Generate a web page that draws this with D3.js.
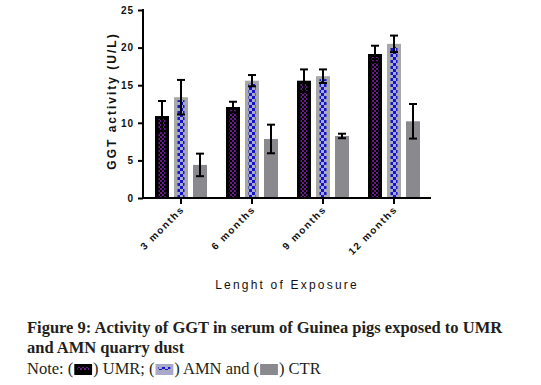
<!DOCTYPE html>
<html>
<head>
<meta charset="utf-8">
<script src="https://cdn.jsdelivr.net/npm/d3@7"></script>
<style>
  body { margin: 0; background: #fff; }
  .cap { font-family: "Liberation Serif", serif; fill: #231f20; }
</style>
</head>
<body>
<div id="chart"></div>
<script>
// Datos del gráfico
const categorias = ["3 months", "6 months", "9 months", "12 months"];
const series = ["UMR", "AMN", "CTR"];
const valoresUMR = [10.9, 12.1, 15.6, 19.15];
const erroresUMR = [2.0, 0.7, 1.5, 1.1];
const valoresAMN = [13.4, 15.6, 16.2, 20.5];
const erroresAMN = [2.3, 0.75, 0.9, 1.1];
const valoresCTR = [4.4, 7.85, 8.25, 10.2];
const erroresCTR = [1.5, 1.9, 0.3, 2.3];
const ticksY = [0, 5, 10, 15, 20, 25];

const width = 541;
const height = 385;

const svg = d3.select("#chart")
    .append("svg")
    .attr("width", width)
    .attr("height", height);

// Patrones de relleno
const defs = svg.append("defs");
const pUMR = defs.append("pattern").attr("id", "pUMR")
    .attr("patternUnits", "userSpaceOnUse").attr("width", 4).attr("height", 4);
pUMR.append("rect").attr("width", 4).attr("height", 4).attr("fill", "#000");
pUMR.append("rect").attr("width", 2).attr("height", 2).attr("fill", "#6a1b8a");
pUMR.append("rect").attr("x", 2).attr("y", 2).attr("width", 2).attr("height", 2).attr("fill", "#6a1b8a");

const pAMN = defs.append("pattern").attr("id", "pAMN")
    .attr("patternUnits", "userSpaceOnUse").attr("width", 6).attr("height", 6);
pAMN.append("rect").attr("width", 6).attr("height", 6).attr("fill", "#a9a9c8");
pAMN.append("rect").attr("width", 3).attr("height", 3).attr("fill", "#1414d0");
pAMN.append("rect").attr("x", 3).attr("y", 3).attr("width", 3).attr("height", 3).attr("fill", "#1414d0");

// Escalas
const x0 = d3.scaleBand().domain(categorias).range([145.5, 429.5]);
const x1 = d3.scalePoint().domain(series).range([-19, 19]);
const y = d3.scaleLinear().domain([0, 25]).range([198, 10]);
const barW = 14;

const datos = {
    UMR: { v: valoresUMR, e: erroresUMR },
    AMN: { v: valoresAMN, e: erroresAMN },
    CTR: { v: valoresCTR, e: erroresCTR }
};

// Barras
const g = svg.append("g");
series.forEach(s => {
    categorias.forEach((c, i) => {
        const cx = x0(c) + x0.bandwidth() / 2 + x1(s);
        const val = datos[s].v[i];
        const x = cx - barW / 2;
        const top = y(val);
        const h = y(0) - top;
        if (s === "UMR") {
            g.append("rect").attr("x", x).attr("y", top).attr("width", barW).attr("height", h).attr("fill", "#000");
            g.append("rect").attr("x", x + 3.5).attr("y", top + 3).attr("width", barW - 7).attr("height", h - 3).attr("fill", "url(#pUMR)");
        } else if (s === "AMN") {
            g.append("rect").attr("x", x).attr("y", top).attr("width", barW).attr("height", h).attr("fill", "#a8a8a8");
            g.append("rect").attr("x", x + 3.5).attr("y", top + 3).attr("width", barW - 7).attr("height", h - 3).attr("fill", "url(#pAMN)");
        } else {
            g.append("rect").attr("x", x).attr("y", top).attr("width", barW).attr("height", h).attr("fill", "#8a898e");
        }
        // Barras de error
        const e = datos[s].e[i];
        const eb = g.append("g").attr("stroke", "#000").attr("stroke-width", 2);
        eb.append("line").attr("x1", cx).attr("x2", cx).attr("y1", y(val + e)).attr("y2", y(val - e));
        eb.append("line").attr("x1", cx - 4).attr("x2", cx + 4).attr("y1", y(val + e)).attr("y2", y(val + e));
        eb.append("line").attr("x1", cx - 4).attr("x2", cx + 4).attr("y1", y(val - e)).attr("y2", y(val - e));
    });
});

// Eje Y
const ejeY = svg.append("g")
    .attr("transform", "translate(143,0)")
    .call(d3.axisLeft(y).tickValues(ticksY).tickSize(5).tickPadding(4));
ejeY.select(".domain").attr("stroke", "#000").attr("stroke-width", 2).attr("d", "M0,198V9");
ejeY.selectAll(".tick line").attr("stroke", "#000").attr("stroke-width", 2);
ejeY.selectAll(".tick text")
    .attr("font-family", "Liberation Sans, Arial, sans-serif")
    .attr("font-weight", "bold").attr("font-size", 10)
    .attr("letter-spacing", 1).attr("fill", "#111");

// Eje X
const ejeX = svg.append("g").attr("transform", "translate(0,198)");
ejeX.append("line").attr("x1", 142).attr("x2", 431).attr("stroke", "#000").attr("stroke-width", 2);
categorias.forEach(c => {
    const cx = x0(c) + x0.bandwidth() / 2;
    ejeX.append("line").attr("x1", cx).attr("x2", cx).attr("y1", 0).attr("y2", 6)
        .attr("stroke", "#000").attr("stroke-width", 2);
    ejeX.append("text")
        .attr("transform", `translate(${cx + 4},${12}) rotate(-45)`)
        .attr("text-anchor", "end")
        .attr("font-family", "Liberation Sans, Arial, sans-serif")
        .attr("font-weight", "bold").attr("font-size", 10)
        .attr("letter-spacing", 1.6).attr("fill", "#111")
        .text(c);
});

// Títulos de ejes
svg.append("text")
    .attr("transform", "translate(116,101) rotate(-90)")
    .attr("text-anchor", "middle")
    .attr("font-family", "Liberation Sans, Arial, sans-serif")
    .attr("font-weight", "bold").attr("font-size", 12)
    .attr("letter-spacing", 2).attr("fill", "#111")
    .text("GGT activity (U/L)");

svg.append("text")
    .attr("x", 287).attr("y", 289)
    .attr("text-anchor", "middle")
    .attr("font-family", "Liberation Sans, Arial, sans-serif")
    .attr("font-size", 12)
    .attr("letter-spacing", 2.2).attr("fill", "#111")
    .text("Lenght of Exposure");

// Pie de figura
svg.append("text").attr("class", "cap")
    .attr("x", 27).attr("y", 333)
    .attr("font-weight", "bold").attr("font-size", 16.5)
    .text("Figure 9: Activity of GGT in serum of Guinea pigs exposed to UMR");
svg.append("text").attr("class", "cap")
    .attr("x", 27).attr("y", 353)
    .attr("font-weight", "bold").attr("font-size", 16.5)
    .text("and AMN quarry dust");

const nota = svg.append("text").attr("class", "cap")
    .attr("x", 27).attr("y", 374)
    .attr("font-size", 16.5);
nota.append("tspan").text("Note: (");
nota.append("tspan").attr("id", "s1").text("\u2003\u2009");
nota.append("tspan").text(") UMR; (");
nota.append("tspan").attr("id", "s2").text("\u2003\u2009");
nota.append("tspan").text(") AMN and (");
nota.append("tspan").attr("id", "s3").text("\u2003\u2009");
nota.append("tspan").text(") CTR");

// Muestras de la leyenda dentro de la nota
const swatch = (id, fill, inner) => {
    const b = svg.select("#" + id).node().getBBox();
    svg.append("rect").attr("x", b.x + 1).attr("y", 364).attr("width", b.width - 2).attr("height", 11).attr("fill", fill);
    if (inner) {
        svg.append("rect").attr("x", b.x + 4).attr("y", 367).attr("width", b.width - 8).attr("height", 3).attr("fill", inner);
    }
};
swatch("s1", "#000", "url(#pUMR)");
swatch("s2", "#a8a8c8", "url(#pAMN)");
swatch("s3", "#8a898e", null);
</script>
</body>
</html>
